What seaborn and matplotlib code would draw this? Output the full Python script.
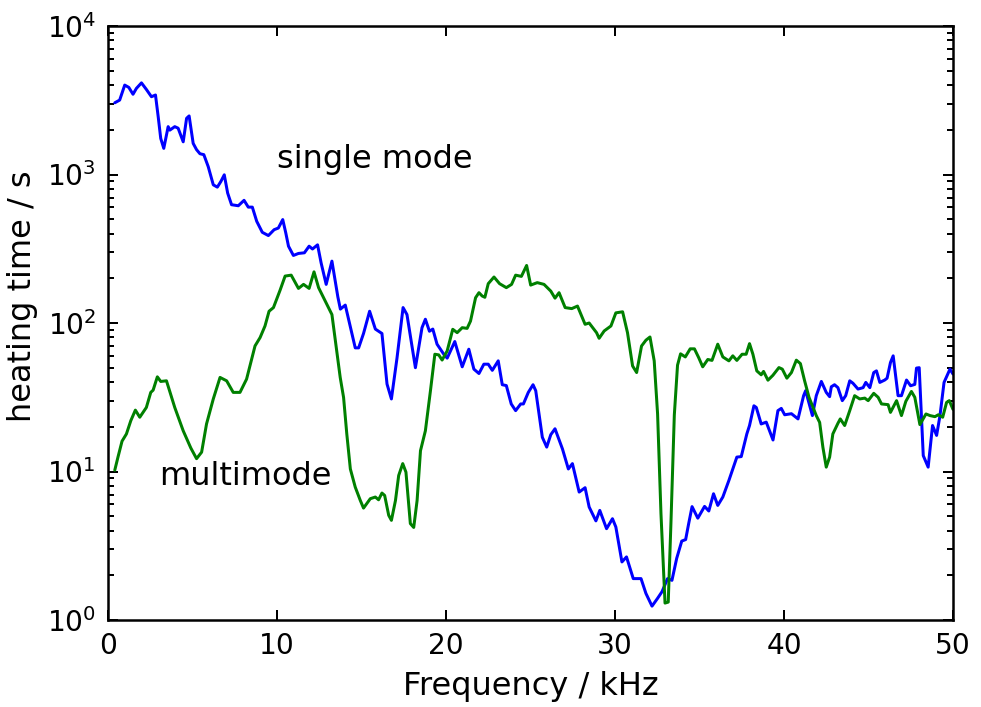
import pandas as pd
import seaborn as sns
import matplotlib.pyplot as plt

# heating time vs. drive frequency
freq_single = [0.40, 0.69, 0.99, 1.23, 1.48, 1.68, 1.98, 2.27, 2.57, 2.81, 2.97, 3.12, 3.30, 3.56,
               3.66, 3.95, 4.15, 4.45, 4.65, 4.80, 5.04, 5.24, 5.44, 5.67, 5.93, 6.23, 6.47, 6.68,
               6.88, 7.08, 7.31, 7.71, 8.05, 8.30, 8.54, 8.80, 9.13, 9.49, 9.83, 10.08, 10.34, 10.52,
               10.68, 10.97, 11.27, 11.62, 11.90, 12.10, 12.40, 12.61, 12.91, 13.25, 13.60, 13.75,
               14.04, 14.63, 14.83, 15.12, 15.48, 15.82, 16.21, 16.51, 16.77, 17.10, 17.46, 17.69,
               18.19, 18.58, 18.78, 19.02, 19.22, 19.47, 19.87, 20.07, 20.52, 20.96, 21.35, 21.65,
               21.95, 22.24, 22.50, 22.74, 23.09, 23.33, 23.57, 23.86, 24.12, 24.42, 24.58, 24.87,
               25.15, 25.31, 25.70, 25.96, 26.20, 26.45, 26.89, 27.24, 27.48, 27.88, 28.23, 28.47,
               28.87, 29.10, 29.50, 29.85, 30.05, 30.41, 30.68, 31.08, 31.54, 31.83, 32.19, 32.52,
               32.78, 33.11, 33.37, 33.65, 33.95, 34.18, 34.36, 34.56, 34.90, 35.30, 35.55, 35.83,
               36.08, 36.38, 36.74, 36.97, 37.21, 37.47, 37.80, 37.96, 38.22, 38.36, 38.65, 38.95,
               39.35, 39.64, 39.84, 40.04, 40.44, 40.83, 41.16, 41.28, 41.68, 41.91, 42.21, 42.50,
               42.70, 42.80, 42.99, 43.19, 43.45, 43.65, 43.89, 44.08, 44.38, 44.68, 44.84, 45.08,
               45.31, 45.47, 45.67, 45.96, 46.10, 46.30, 46.46, 46.75, 46.95, 47.25, 47.49, 47.74,
               47.84, 48.00, 48.24, 48.53, 48.79, 49.03, 49.23, 49.47, 49.82, 50.00]
time_single = [3040, 3170, 4000, 3860, 3470, 3800, 4140, 3740, 3340, 3430, 2450, 1750, 1500, 2100,
               1990, 2100, 2050, 1660, 2390, 2480, 1620, 1470, 1380, 1360, 1130, 852, 822, 898,
               995, 750, 626, 616, 670, 603, 603, 484, 408, 388, 425, 436, 497, 404,
               329, 285, 294, 297, 329, 315, 336, 254, 182, 261, 150, 124,
               132, 68, 68, 85, 120, 91, 85, 38.8, 30.8, 58, 127, 114,
               50, 93, 106, 88, 91, 72, 61.6, 58, 75, 50.7, 66.6, 48.9,
               45.7, 52.8, 52.8, 48, 55.6, 38.4, 37.9, 28.5, 25.7, 28.5, 28.5, 34.1,
               38.4, 35, 17, 14.6, 17.7, 19.4, 14.2, 10.4, 11.3, 7.27, 7.78, 5.77,
               4.65, 5.47, 4.12, 4.81, 4.23, 2.46, 2.66, 1.9, 1.9, 1.51, 1.24, 1.40,
               1.55, 1.90, 1.85, 2.6, 3.4, 3.48, 4.46, 5.8, 4.85, 5.82, 5.42, 7.08,
               5.91, 6.73, 8.71, 10.4, 12.5, 12.6, 17.9, 20.4, 27.7, 27, 20.9, 21.5,
               16.3, 25.7, 26.6, 24.1, 24.5, 22.6, 32.4, 35, 23.8, 32.4, 40.4, 34.1,
               31.9, 37.2, 38.4, 36.7, 30, 32.4, 40.8, 39.3, 35.9, 36.7, 39.8, 36.7,
               46.4, 47.6, 39.8, 41.3, 42.5, 54.2, 60.1, 32.4, 32.4, 41.3, 37.8, 38.6,
               49.7, 50, 12.8, 10.7, 20.4, 17.5, 23.8, 39.8, 48.9, 45.3]

freq_multi = [0.40, 0.59, 0.83, 1.09, 1.35, 1.62, 1.88, 2.27, 2.53, 2.67, 2.92, 3.12, 3.46, 3.95,
              4.45, 4.90, 5.24, 5.54, 5.83, 6.23, 6.63, 7.02, 7.41, 7.81, 8.20, 8.70, 9.00, 9.29,
              9.53, 9.79, 10.18, 10.48, 10.84, 11.27, 11.57, 11.90, 12.19, 12.46, 13.05, 13.25,
              13.48, 13.74, 13.94, 14.13, 14.34, 14.63, 14.93, 15.12, 15.52, 15.82, 16.01, 16.21,
              16.37, 16.61, 16.77, 17.01, 17.20, 17.44, 17.63, 17.89, 18.09, 18.29, 18.49, 18.78,
              19.08, 19.34, 19.57, 19.77, 20.07, 20.40, 20.66, 20.96, 21.25, 21.45, 21.75, 21.95,
              22.14, 22.30, 22.50, 22.84, 23.17, 23.57, 23.88, 24.12, 24.46, 24.77, 25.01, 25.40,
              25.80, 26.20, 26.45, 26.69, 27.05, 27.44, 27.78, 28.23, 28.47, 28.91, 29.06, 29.36,
              29.76, 30.05, 30.45, 30.74, 31.04, 31.28, 31.57, 31.83, 32.07, 32.32, 32.52, 32.72,
              32.96, 33.15, 33.31, 33.51, 33.70, 33.88, 34.16, 34.45, 34.70, 34.95, 35.19, 35.49,
              35.74, 36.08, 36.38, 36.74, 36.97, 37.21, 37.52, 37.76, 37.96, 38.16, 38.39, 38.65,
              38.79, 39.05, 39.34, 39.70, 39.90, 40.17, 40.44, 40.73, 40.97, 41.22, 41.48, 41.91,
              42.11, 42.30, 42.50, 42.70, 42.89, 43.19, 43.33, 43.59, 43.89, 44.18, 44.48, 44.78,
              44.98, 45.31, 45.57, 45.77, 46.16, 46.30, 46.66, 46.95, 47.21, 47.54, 47.74, 48.04,
              48.40, 48.64, 48.93, 49.13, 49.39, 49.62, 49.78, 50.00]
time_multi = [10.2, 12.5, 16, 17.9, 22, 25.9, 23.2, 27, 34.1, 35.3, 43.4, 40.4, 40.8, 27,
              18.8, 14.4, 12.2, 13.5, 20.9, 30.8, 43, 40.8, 34.1, 34.1, 41.9, 70.1, 79.8, 95.5,
              120, 127, 166, 207, 210, 171, 182, 171, 221, 173, 127, 114,
              72, 43, 31.5, 17.9, 10.4, 7.85, 6.38, 5.67, 6.56, 6.73, 6.45, 7.16,
              6.9, 5.07, 4.69, 6.38, 9.4, 11.3, 9.9, 4.46, 4.2, 6.38, 13.8, 18.8,
              35, 61.6, 61, 56.3, 64.9, 90.7, 86.1, 93, 92, 103, 148, 160,
              152, 149, 184, 204, 184, 173, 182, 210, 206, 244, 180, 187,
              182, 164, 147, 160, 127, 125, 130, 98, 100, 86, 78.9, 88.4,
              95.5, 117, 119, 86, 51.4, 46.4, 70, 76.6, 80.5, 55.6, 24.4, 5.2,
              1.30, 1.32, 4.5, 24, 52, 62, 59.1, 67, 67, 58.5, 50.7, 56.8,
              56, 72, 59.1, 55.6, 60.1, 56, 61.6, 61.6, 72.6, 61.6, 47.6, 44.8,
              47.2, 41.2, 44.4, 50.1, 48.9, 42.5, 46.4, 56.2, 53.3, 40.8, 31.6, 23.8,
              21.4, 14.6, 10.7, 12.5, 17.9, 21.1, 22.6, 20.4, 25.7, 32.4, 30.8, 31.2,
              30, 33.6, 31.6, 28.5, 28.2, 25, 30, 23.8, 29.7, 34.6, 31.6, 20.7,
              24.4, 23.8, 23.4, 24.1, 23.2, 29.2, 30, 26.2]

modes = ["single mode", "multimode"]
colors = {"single mode": "b", "multimode": "g"}

df = pd.concat([
    pd.DataFrame({"freq": freq_single, "time": time_single, "mode": modes[0]}),
    pd.DataFrame({"freq": freq_multi, "time": time_multi, "mode": modes[1]}),
])

sns.set_style("ticks", {"axes.edgecolor": "black", "text.color": "black",
                        "axes.labelcolor": "black", "xtick.color": "black",
                        "ytick.color": "black", "xtick.direction": "in",
                        "ytick.direction": "in"})

fig = plt.figure(figsize=(981 / 144, 707 / 144), dpi=144)
ax = fig.add_axes([108 / 981, 1 - 620 / 707, (953 - 108) / 981, (620 - 26) / 707])

sns.lineplot(data=df, x="freq", y="time", hue="mode", palette=colors,
             estimator=None, sort=False, legend=False, linewidth=1.5, ax=ax)

ax.set_yscale("log")
ax.set_xlim(0, 50)
ax.set_ylim(1, 1e4)
ax.set_xticks([0, 10, 20, 30, 40, 50])

# old-school look: ticks inside, on every side
ax.tick_params(which="both", direction="in", top=True, right=True)
ax.tick_params(which="major", length=5, width=1, labelsize=14, pad=6)
ax.tick_params(which="minor", length=3, width=1)
ax.tick_params(axis="x", which="minor", bottom=False, top=False)
for s in ax.spines.values():
    s.set_visible(True)
    s.set_linewidth(1.25)

ax.set_xlabel("Frequency / kHz", fontsize=16, labelpad=5.5)
ax.set_ylabel("heating time / s", fontsize=16)
ax.yaxis.set_label_coords(-0.083, 0.545)

ax.text(10, 1100, "single mode", fontsize=16, va="baseline")
ax.text(3, 8.1, "multimode", fontsize=16, va="baseline")

fig.savefig("out.png", dpi=144)
